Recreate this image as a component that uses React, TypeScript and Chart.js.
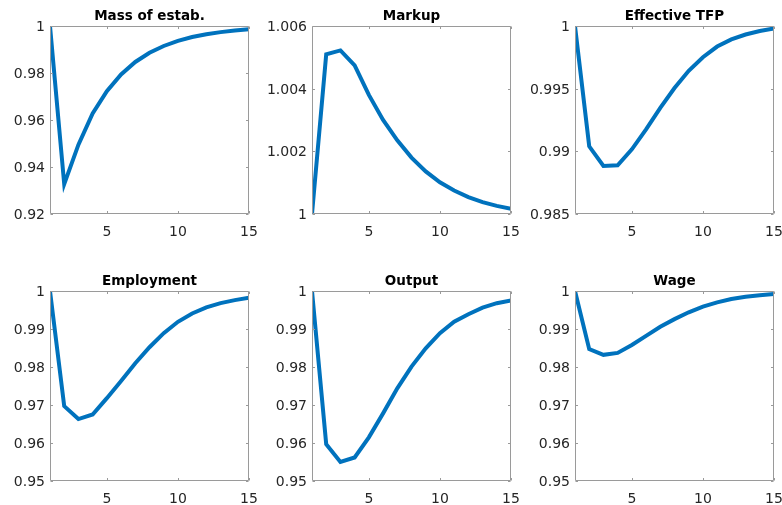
import React, { useEffect, useRef } from "react";
import { Chart, registerables } from "chart.js";

Chart.register(...registerables);

// ---------- data ----------
const periods = [1, 2, 3, 4, 5, 6, 7, 8, 9, 10, 11, 12, 13, 14, 15];

const massOfEstab = [1.0, 0.9327, 0.9495, 0.9628, 0.9723, 0.9794, 0.9847, 0.9886, 0.9915, 0.9937, 0.9953, 0.9965, 0.9974, 0.9981, 0.9986];
const markup = [1.0, 1.0051, 1.00522, 1.00474, 1.0038, 1.003, 1.00235, 1.0018, 1.00136, 1.00101, 1.00075, 1.00054, 1.00038, 1.00026, 1.00017];
const effectiveTFP = [1.0, 0.9904, 0.98883, 0.98889, 0.99016, 0.99175, 0.99347, 0.99505, 0.99643, 0.99751, 0.99836, 0.99893, 0.99932, 0.9996, 0.9998];
const employment = [1.0, 0.9697, 0.9663, 0.9675, 0.9718, 0.9763, 0.981, 0.9852, 0.9889, 0.9919, 0.9941, 0.9957, 0.9968, 0.9976, 0.9982];
const output = [1.0, 0.9597, 0.955, 0.9562, 0.9615, 0.9678, 0.9744, 0.9801, 0.9849, 0.9889, 0.9919, 0.9939, 0.9956, 0.9968, 0.9975];
const wage = [1.0, 0.9847, 0.9832, 0.9837, 0.9858, 0.9882, 0.9906, 0.9926, 0.9944, 0.9959, 0.997, 0.9979, 0.9985, 0.9989, 0.9992];

const xTicks = [5, 10, 15];
const massTicks = [0.92, 0.94, 0.96, 0.98, 1];
const markupTicks = [1, 1.002, 1.004, 1.006];
const tfpTicks = [0.985, 0.99, 0.995, 1];
const lowerTicks = [0.95, 0.96, 0.97, 0.98, 0.99, 1];

const titles = ["Mass of estab.", "Markup", "Effective TFP", "Employment", "Output", "Wage"];

// ---------- layout ----------
const AXIS_GREY = "#9a9a9a";
const LINE_BLUE = "#0072BD";
const TEXT = "#262626";
const FONT = "'DejaVu Sans', 'Liberation Sans', Arial, sans-serif";

const PLOT_W = 199;
const Y_AXIS_W = 50;
const TOP_PAD = 26;
const RIGHT_PAD = 8;
const X_AXIS_H = 30;

const boxPlugin = {
  id: "matlabBox",
  afterDraw(chart: any) {
    const { ctx, chartArea } = chart;
    const l = Math.round(chartArea.left) + 0.5;
    const r = Math.round(chartArea.right) - 0.5;
    const t = Math.round(chartArea.top) + 0.5;
    const b = Math.round(chartArea.bottom) - 0.5;
    ctx.save();
    ctx.strokeStyle = AXIS_GREY;
    ctx.lineWidth = 1;
    ctx.beginPath();
    ctx.rect(l, t, r - l, b - t);
    const tl = 2.5;
    const xs = chart.scales.x;
    const ys = chart.scales.y;
    xs.ticks.forEach((tk: any) => {
      const px = Math.round(xs.getPixelForValue(tk.value)) + 0.5;
      ctx.moveTo(px, b);
      ctx.lineTo(px, b - tl);
      ctx.moveTo(px, t);
      ctx.lineTo(px, t + tl);
    });
    ys.ticks.forEach((tk: any) => {
      const py = Math.round(ys.getPixelForValue(tk.value)) + 0.5;
      ctx.moveTo(l, py);
      ctx.lineTo(l + tl, py);
      ctx.moveTo(r, py);
      ctx.lineTo(r - tl, py);
    });
    ctx.stroke();
    const title = chart.options.plugins.panelTitle?.text;
    if (title) {
      ctx.fillStyle = "#000";
      ctx.font = `bold 13.5px ${FONT}`;
      ctx.textAlign = "center";
      ctx.textBaseline = "alphabetic";
      ctx.fillText(title, (chartArea.left + chartArea.right) / 2, chartArea.top - 6.5);
    }
    ctx.restore();
  },
};

type PanelProps = {
  title: string;
  values: number[];
  yTicks: number[];
  left: number;
  top: number;
  plotH: number;
};

function Panel({ title, values, yTicks, left, top, plotH }: PanelProps) {
  const ref = useRef<HTMLCanvasElement | null>(null);
  const width = Y_AXIS_W + PLOT_W + RIGHT_PAD;
  const height = TOP_PAD + plotH + X_AXIS_H;

  useEffect(() => {
    if (!ref.current) return;
    const chart = new Chart(ref.current, {
      type: "line",
      data: {
        datasets: [
          {
            data: periods.map((p, i) => ({ x: p, y: values[i] })),
            borderColor: LINE_BLUE,
            borderWidth: 4,
            pointRadius: 0,
            tension: 0,
            fill: false,
          },
        ],
      },
      options: {
        responsive: false,
        animation: false,
        devicePixelRatio: 1,
        layout: { padding: { top: TOP_PAD, right: RIGHT_PAD, left: 0, bottom: 0 } },
        plugins: {
          legend: { display: false },
          tooltip: { enabled: false },
          title: { display: false },
          // @ts-ignore
          panelTitle: { text: title },
        },
        scales: {
          x: {
            type: "linear",
            min: 1,
            max: 15,
            grid: { display: false, drawTicks: false },
            border: { display: false },
            afterBuildTicks: (s: any) => {
              s.ticks = xTicks.map((v) => ({ value: v }));
            },
            afterFit: (s: any) => {
              s.height = X_AXIS_H;
              s.paddingLeft = 0;
              s.paddingRight = 0;
            },
            ticks: {
              padding: 10,
              color: TEXT,
              font: { family: FONT, size: 14 },
              maxRotation: 0,
              autoSkip: false,
              callback: (v: any) => String(v),
            },
          },
          y: {
            type: "linear",
            min: yTicks[0],
            max: yTicks[yTicks.length - 1],
            grid: { display: false, drawTicks: false },
            border: { display: false },
            afterBuildTicks: (s: any) => {
              s.ticks = yTicks.map((v) => ({ value: v }));
            },
            afterFit: (s: any) => {
              s.width = Y_AXIS_W;
              s.paddingTop = 0;
              s.paddingBottom = 0;
            },
            ticks: {
              padding: 5,
              labelOffset: 1.5,
              color: TEXT,
              font: { family: FONT, size: 14 },
              autoSkip: false,
              callback: (v: any) => String(Number(Number(v).toFixed(4))),
            },
          },
        },
      },
      plugins: [boxPlugin],
    });
    return () => chart.destroy();
  }, [title, values, yTicks, plotH]);

  return (
    <canvas
      ref={ref}
      width={width}
      height={height}
      style={{
        position: "absolute",
        left: left - Y_AXIS_W,
        top: top - TOP_PAD,
        width,
        height,
      }}
    />
  );
}

export default function App() {
  const colLefts = [50, 312, 575];
  const rows = [
    { top: 26, h: 188 },
    { top: 291, h: 190 },
  ];
  const series = [massOfEstab, markup, effectiveTFP, employment, output, wage];
  const ticks = [massTicks, markupTicks, tfpTicks, lowerTicks, lowerTicks, lowerTicks];
  return (
    <div
      style={{
        position: "fixed",
        left: 0,
        top: 0,
        width: 782,
        height: 505,
        background: "#fff",
        overflow: "hidden",
      }}
    >
      {titles.map((t, i) => {
        const row = rows[Math.floor(i / 3)];
        return (
          <Panel
            key={t}
            title={t}
            values={series[i]}
            yTicks={ticks[i]}
            left={colLefts[i % 3]}
            top={row.top}
            plotH={row.h}
          />
        );
      })}
    </div>
  );
}
